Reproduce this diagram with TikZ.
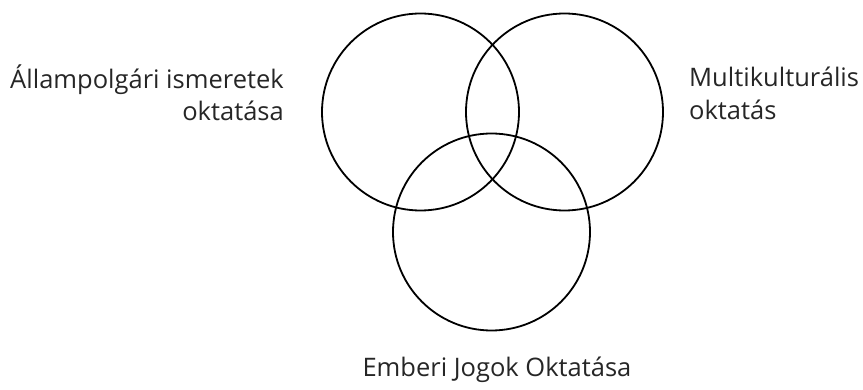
\documentclass[tikz,border=0pt]{standalone}
\usepackage{fontspec}
\setmainfont{Open Sans}
\begin{document}
\begin{tikzpicture}[x=1pt,y=-1pt,
  venn/.style={draw=black,line width=1.8pt,circle,minimum size=197pt,inner sep=0pt},
  lbl/.style={font=\fontsize{25.5}{30}\selectfont,inner sep=0pt,text=black!85}]
\useasboundingbox (0,0) rectangle (863,390);
\node[venn] (A) at (420.5,112) {};
\node[venn] (B) at (564.5,112) {};
\node[venn] (C) at (491.5,232) {};
\node[lbl,anchor=base east] (a1) at (284,89) {Állampolgári ismeretek};
\node[lbl,anchor=base east] (a2) at (284,121) {oktatása};
\node[lbl,anchor=base west] (b1) at (689,87) {Multikulturális};
\node[lbl,anchor=base west] (b2) at (689,120) {oktatás};
\node[lbl,anchor=base] (c1) at (497,377) {Emberi Jogok Oktatása};
\end{tikzpicture}
\end{document}
